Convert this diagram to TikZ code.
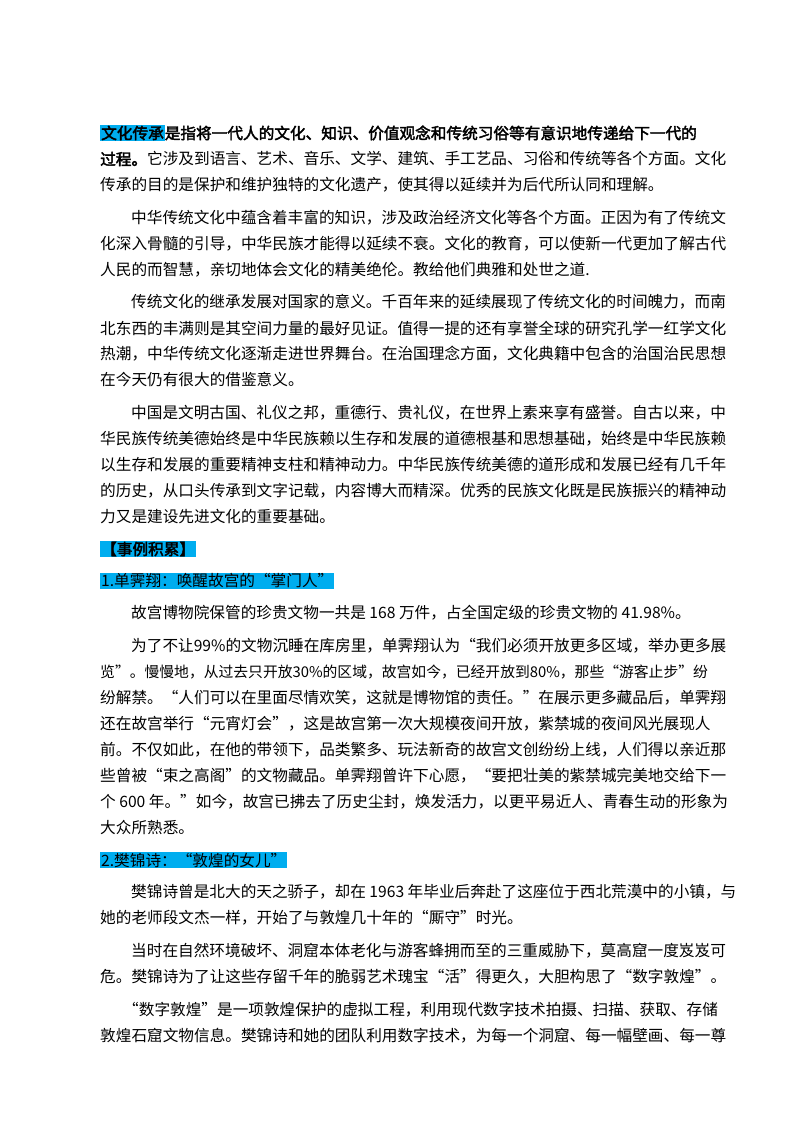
\documentclass[tikz,border=0pt]{standalone}
\usepackage{fontspec}
\setmainfont{Noto Sans CJK SC}[AutoFakeBold=2.5]
\begin{document}
\begin{tikzpicture}[x=1pt,y=-1pt,
  ln/.style={anchor=west,inner sep=0pt,font=\fontsize{15.65}{18}\selectfont}]
\setlength{\fboxsep}{1pt}
\fill[white] (0,0) rectangle (800,1132);
\useasboundingbox (0,0) rectangle (800,1132);
\node[ln] (l1) at (100,133) {\textbf{\colorbox{cyan}{文化传承}是指将一代人的文化、知识、价值观念和传统习俗等有意识地传递给下一代的}};
\node[ln] (l2) at (100,159) {\textbf{过程。}它涉及到语言、艺术、音乐、文学、建筑、手工艺品、习俗和传统等各个方面。文化};
\node[ln] (l3) at (100,185) {传承的目的是保护和维护独特的文化遗产，使其得以延续并为后代所认同和理解。};
\node[ln] (l4) at (131,218) {中华传统文化中蕴含着丰富的知识，涉及政治经济文化等各个方面。正因为有了传统文};
\node[ln] (l5) at (100,244) {化深入骨髓的引导，中华民族才能得以延续不衰。文化的教育，可以使新一代更加了解古代};
\node[ln] (l6) at (100,270) {人民的而智慧，亲切地体会文化的精美绝伦。教给他们典雅和处世之道.};
\node[ln] (l7) at (131,302) {传统文化的继承发展对国家的意义。千百年来的延续展现了传统文化的时间魄力，而南};
\node[ln] (l8) at (100,328) {北东西的丰满则是其空间力量的最好见证。值得一提的还有享誉全球的研究孔学一红学文化};
\node[ln] (l9) at (100,354) {热潮，中华传统文化逐渐走进世界舞台。在治国理念方面，文化典籍中包含的治国治民思想};
\node[ln] (l10) at (100,380) {在今天仍有很大的借鉴意义。};
\node[ln] (l11) at (131,413) {中国是文明古国、礼仪之邦，重德行、贵礼仪，在世界上素来享有盛誉。自古以来，中};
\node[ln] (l12) at (100,439) {华民族传统美德始终是中华民族赖以生存和发展的道德根基和思想基础，始终是中华民族赖};
\node[ln] (l13) at (100,465) {以生存和发展的重要精神支柱和精神动力。中华民族传统美德的道形成和发展已经有几千年};
\node[ln] (l14) at (100,491) {的历史，从口头传承到文字记载，内容博大而精深。优秀的民族文化既是民族振兴的精神动};
\node[ln] (l15) at (100,517) {力又是建设先进文化的重要基础。};
\node[ln] (l16) at (100,549) {\textbf{\colorbox{cyan}{【事例积累】}}};
\node[ln] (l17) at (100,581) {\colorbox{cyan}{1.单霁翔：唤醒故宫的“掌门人”}};
\node[ln] (l18) at (131,613) {故宫博物院保管的珍贵文物一共是 168 万件，占全国定级的珍贵文物的 41.98\%。};
\node[ln] (l19) at (131,646) {为了不让99\%的文物沉睡在库房里，单霁翔认为“我们必须开放更多区域，举办更多展};
\node[ln,font=\fontsize{14.8}{18}\selectfont] (l20) at (100,672) {览”。慢慢地，从过去只开放30\%的区域，故宫如今，已经开放到80\%，那些“游客止步”纷};
\node[ln] (l21) at (100,698) {纷解禁。“人们可以在里面尽情欢笑，这就是博物馆的责任。”在展示更多藏品后，单霁翔};
\node[ln] (l22) at (100,724) {还在故宫举行“元宵灯会”，这是故宫第一次大规模夜间开放，紫禁城的夜间风光展现人};
\node[ln] (l23) at (100,750) {前。不仅如此，在他的带领下，品类繁多、玩法新奇的故宫文创纷纷上线，人们得以亲近那};
\node[ln] (l24) at (100,776) {些曾被“束之高阁”的文物藏品。单霁翔曾许下心愿，“要把壮美的紫禁城完美地交给下一};
\node[ln] (l25) at (100,802) {个 600 年。”如今，故宫已拂去了历史尘封，焕发活力，以更平易近人、青春生动的形象为};
\node[ln] (l26) at (100,828) {大众所熟悉。};
\node[ln] (l27) at (100,860) {\colorbox{cyan}{2.樊锦诗：“敦煌的女儿”}};
\node[ln] (l28) at (131,892) {樊锦诗曾是北大的天之骄子，却在 1963 年毕业后奔赴了这座位于西北荒漠中的小镇，与};
\node[ln] (l29) at (100,918) {她的老师段文杰一样，开始了与敦煌几十年的“厮守”时光。};
\node[ln] (l30) at (131,951) {当时在自然环境破坏、洞窟本体老化与游客蜂拥而至的三重威胁下，莫高窟一度岌岌可};
\node[ln] (l31) at (100,977) {危。樊锦诗为了让这些存留千年的脆弱艺术瑰宝“活”得更久，大胆构思了“数字敦煌”。};
\node[ln] (l32) at (123,1010) {“数字敦煌”是一项敦煌保护的虚拟工程，利用现代数字技术拍摄、扫描、获取、存储};
\node[ln] (l33) at (100,1036) {敦煌石窟文物信息。樊锦诗和她的团队利用数字技术，为每一个洞窟、每一幅壁画、每一尊};
\end{tikzpicture}
\end{document}
